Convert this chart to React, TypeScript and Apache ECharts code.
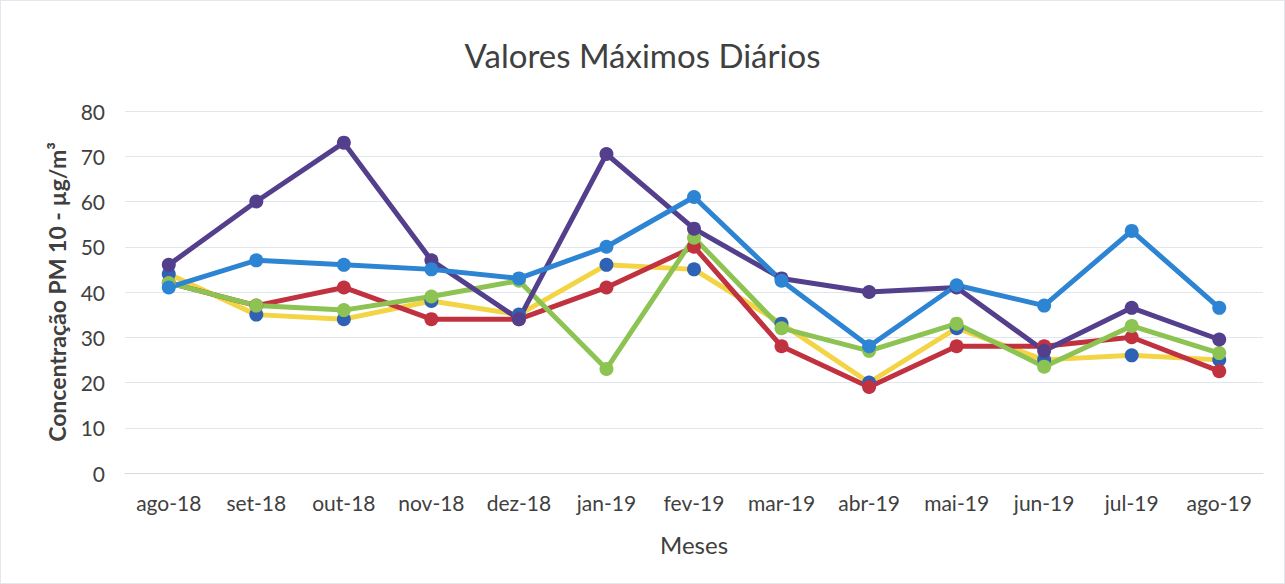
import React, { useEffect, useRef } from "react";
import * as echarts from "echarts";

const categories = ["ago-18", "set-18", "out-18", "nov-18", "dez-18", "jan-19", "fev-19", "mar-19", "abr-19", "mai-19", "jun-19", "jul-19", "ago-19"];
const serieAmarela = [44, 35, 34, 38, 35, 46, 45, 33, 20, 32, 25, 26, 25];
const serieVermelha = [42, 37, 41, 34, 34, 41, 50, 28, 19, 28, 28, 30, 22.5];
const serieVerde = [42, 37, 36, 39, 42.5, 23, 52, 32, 27, 33, 23.5, 32.5, 26.5];
const serieRoxa = [46, 60, 73, 47, 34, 70.5, 54, 43, 40, 41, 27, 36.5, 29.5];
const serieAzul = [41, 47, 46, 45, 43, 50, 61, 42.5, 28, 41.5, 37, 53.5, 36.5];
const yTicks = [0, 80, 10];

export default function App() {
  const ref = useRef<HTMLDivElement>(null);
  useEffect(() => {
    const chart = echarts.init(ref.current!, null, { renderer: "svg" });
    const font = "Lato, 'Open Sans', sans-serif";
    const mk = (name: string, data: number[], line: string, marker: string) => ({
      name,
      type: "line",
      data,
      symbol: "circle",
      symbolSize: 14,
      lineStyle: { color: line, width: 5 },
      itemStyle: { color: marker },
    });
    chart.setOption({
      animation: false,
      backgroundColor: "#ffffff",
      title: {
        text: "Valores Máximos Diários",
        left: "center",
        top: 32,
        textStyle: { fontFamily: font, fontSize: 33, fontWeight: "normal", color: "#404040" },
      },
      grid: { left: 124, right: 21, top: 110, bottom: 110 },
      xAxis: {
        type: "category",
        data: categories,
        boundaryGap: true,
        name: "Meses",
        nameLocation: "middle",
        nameGap: 59,
        nameTextStyle: { fontFamily: font, fontSize: 24, color: "#404040" },
        axisLine: { lineStyle: { color: "#d9d9d9" } },
        axisTick: { show: false },
        axisLabel: { fontFamily: font, fontSize: 21, color: "#404040", margin: 19 },
      },
      yAxis: {
        type: "value",
        min: yTicks[0],
        max: yTicks[1],
        interval: yTicks[2],
        name: "Concentração PM 10 - µg/m³",
        nameLocation: "middle",
        nameGap: 57,
        nameTextStyle: { fontFamily: font, fontSize: 23, fontWeight: "bold", color: "#404040" },
        axisLine: { show: false },
        axisTick: { show: false },
        axisLabel: { fontFamily: font, fontSize: 21, color: "#404040", margin: 20 },
        splitLine: { lineStyle: { color: "#dfe6ee" } },
      },
      series: [
        mk("Série 1", serieAmarela, "#f2d444", "#2f62b4"),
        mk("Série 2", serieVermelha, "#c0323f", "#c0323f"),
        mk("Série 3", serieVerde, "#8cc353", "#8cc353"),
        mk("Série 4", serieRoxa, "#543f8c", "#543f8c"),
        mk("Série 5", serieAzul, "#2c84d2", "#2c84d2"),
      ],
    });
    return () => chart.dispose();
  }, []);
  return (
    <div
      ref={ref}
      style={{ position: "fixed", left: 0, top: 0, width: 1285, height: 584, boxSizing: "border-box", border: "1px solid #e3e8ee" }}
    />
  );
}
